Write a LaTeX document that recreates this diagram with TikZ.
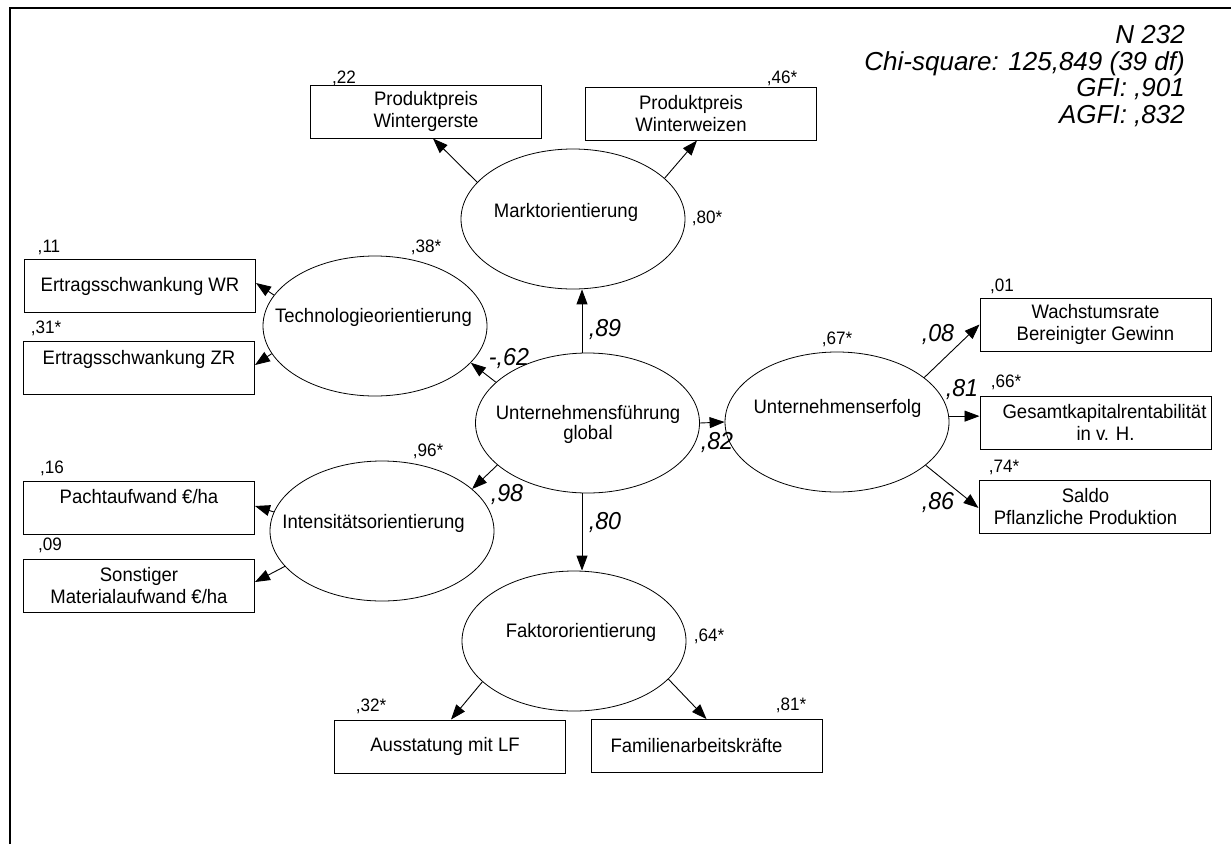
\documentclass[tikz,border=0pt]{standalone}
\usepackage{fontspec}
\setmainfont[FakeStretch=0.95]{Liberation Sans}
\newfontfamily\statsfont{Liberation Sans}
\usetikzlibrary{arrows.meta,calc,shapes.geometric}
\newcommand{\lsh}[1]{\hspace*{#1}}
\begin{document}
\begin{tikzpicture}[x=1pt,y=-1pt,
  box/.style={draw,line width=1pt,minimum width=231pt,minimum height=53pt,inner sep=1pt,align=center,font=\fontsize{19.5}{22}\selectfont},
  lat/.style={draw,ellipse,line width=0.8pt,minimum width=224pt,minimum height=140pt,inner sep=0pt},
  ltxt/.style={font=\fontsize{19.5}{20}\selectfont,align=center,inner sep=0pt},
  small/.style={font=\fontsize{18}{19}\selectfont,inner sep=0pt},
  coef/.style={font=\fontsize{24.5}{26}\selectfont\itshape,inner sep=0pt},
  stats/.style={font=\statsfont\fontsize{26}{26.5}\selectfont\itshape,inner sep=0pt,align=right},
  arr/.style={line width=0.9pt,-{Triangle[length=15pt,width=11pt]}},
]
\useasboundingbox (0,0) rectangle (1231,844);
% frame
\coordinate (f1) at (10,844);
\coordinate (f2) at (10,8);
\coordinate (f3) at (1231,8);
\draw[line width=1.3pt] (f1) -- (f2) -- (f3);

% boxes
\node[box] (Bwg) at (426,111.5) {Produktpreis\\Wintergerste};
\node[box] (Bww) at (701,113.5) {\lsh{-20pt}Produktpreis\\\lsh{-20pt}Winterweizen};
\node[box] (Bwr) at (140,286) {Ertragsschwankung WR};
\node[box] (Bzr) at (139,368) {Ertragsschwankung ZR\\ \mbox{}};
\node[box] (Bpa) at (139,507.5) {Pachtaufwand €/ha\\ \mbox{}};
\node[box] (Bso) at (139,585.5) {Sonstiger\\Materialaufwand €/ha};
\node[box] (Bau) at (450,746.5) {\lsh{-10pt}Ausstatung mit LF};
\node[box] (Bfa) at (706.5,746) {\lsh{-20pt}Familienarbeitskräfte};
\node[box] (Bwa) at (1095.5,324.5) {Wachstumsrate\\Bereinigter Gewinn};
\node[box] (Bge) at (1095.5,422.5) {\lsh{18pt}Gesamtkapitalrentabilität\\\lsh{20pt}in v. H.};
\node[box] (Bsa) at (1094.5,506.5) {\lsh{-18pt}Saldo\\\lsh{-18pt}Pflanzliche Produktion};

% latent variables
\node[lat] (Ema) at (573,219) {};
\node[lat] (Ete) at (375,326) {};
\node[lat] (Egl) at (587.5,423) {};
\node[lat] (Ein) at (382,531) {};
\node[lat] (Efa) at (574,641) {};
\node[lat] (Eer) at (837,422) {};
\node[ltxt] (Tma) at ($(Ema)+(-7,-7)$) {Marktorientierung};
\node[ltxt] (Tte) at ($(Ete)+(-1.5,-9)$) {Technologieorientierung};
\node[ltxt] (Tgl) at ($(Egl)+(0.5,1.5)$) {Unternehmensführung\\global};
\node[ltxt] (Tin) at ($(Ein)+(-8.5,-8)$) {Intensitätsorientierung};
\node[ltxt] (Tfa) at ($(Efa)+(7,-9)$) {Faktororientierung};
\node[ltxt] (Ter) at ($(Eer)+(0.5,-14)$) {Unternehmenserfolg};

% small labels
\node[small] (s22) at (344,78) {,22};
\node[small] (s46) at (782,78) {,46*};
\node[small] (s11) at (49,247) {,11};
\node[small] (s38) at (426,247) {,38*};
\node[small] (s31) at (46,328) {,31*};
\node[small] (s80) at (707,218) {,80*};
\node[small] (s01) at (1002,286) {,01};
\node[small] (s67) at (837,339) {,67*};
\node[small] (s66) at (1006,382) {,66*};
\node[small] (s96) at (428,451) {,96*};
\node[small] (s16) at (52,468) {,16};
\node[small] (s74) at (1004,467) {,74*};
\node[small] (s09) at (50,545) {,09};
\node[small] (s64) at (709,636) {,64*};
\node[small] (s32) at (371,706) {,32*};
\node[small] (s81) at (791,705) {,81*};

% coefficients
\node[coef] (c89) at (605,330) {,89};
\node[coef] (c62) at (509,359) {-,62};
\node[coef] (c98) at (507,495) {,98};
\node[coef] (c80) at (605,523) {,80};
\node[coef] (c82) at (717,443) {,82};
\node[coef] (c08) at (938,335) {,08};
\node[coef] (c81) at (962,390) {,81};
\node[coef] (c86) at (938,503) {,86};

% fit statistics
\node[stats,anchor=east] (st) at (1185,76) {N 232\\Chi-square: 125,849 (39 df)\\GFI: ,901\\AGFI: ,832};

% connectors
\coordinate (vx) at (582,0);
\draw[arr] (Ema.159.6) -- ($(Bwg.south)+(7,0)$);
\draw[arr] (Ema.24.8) -- ($(Bww.south)+(-4,0)$);
\draw[arr] (Ete.163.1) -- ($(Bwr.east)+(0,-3)$);
\draw[arr] (Ete.195.9) -- ($(Bzr.east)+(0,-3)$);
\draw[arr] (Egl.156.1) -- (Ete.339.6);
\draw[arr] (Egl.205.7) -- (Ein.25.5);
\draw[arr] (Egl.east) -- (Eer.west);
\draw[arr] (Egl.north -| vx) -- (Ema.south -| vx);
\draw[arr] (Egl.south -| vx) -- (Efa.north -| vx);
\draw[arr] (Ein.170.6) -- ($(Bpa.east)+(0,-1.5)$);
\draw[arr] (Ein.200.2) -- ($(Bso.east)+(0,-3.5)$);
\draw[arr] (Efa.204.8) -- ($(Bau.north)+(1,0)$);
\draw[arr] (Efa.338) -- (Bfa.north);
\draw[arr] (Eer.27.3) -- (Bwa.west);
\draw[arr] (Eer.3.7) -- (Eer.3.7 -| Bge.west);
\draw[arr] (Eer.334.7) -- ($(Bsa.west)+(0,1.5)$);
\end{tikzpicture}
\end{document}
